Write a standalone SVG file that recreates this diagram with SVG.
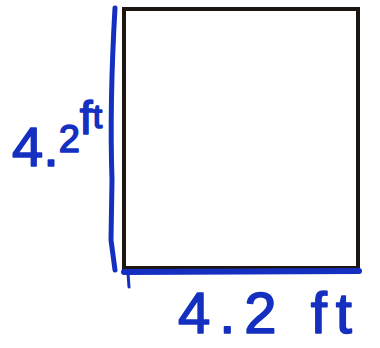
<svg xmlns="http://www.w3.org/2000/svg" width="380" height="348" viewBox="0 0 380 348">
<style>
.ink{fill:none;stroke:#1530c0;stroke-linecap:round;stroke-linejoin:round}
.lbl{font-family:"Liberation Sans","DejaVu Sans",sans-serif;fill:#1530c0;stroke:#1530c0;stroke-width:1.6;stroke-linejoin:round}
</style>
<rect width="380" height="348" fill="#ffffff"/>
<g id="square">
<rect x="124" y="9" width="234" height="259" fill="#ffffff" stroke="#1c1510" stroke-width="4"/>
</g>
<g id="dimensions">
<path class="ink" stroke-width="5" d="M115,8 C112,60 110,120 112,180 L111,240 L115,270"/>
<path class="ink" stroke-width="6" d="M124,272 L359,271"/>
<path class="ink" stroke-width="3" d="M128,273 L129,287"/>
</g>
<g id="label-left">
<text class="lbl" x="12" y="166" font-size="56">4.<tspan dy="-14" font-size="38">2</tspan><tspan dy="-18" font-size="46">f</tspan><tspan dy="-6" font-size="34">t</tspan></text>
</g>
<g id="label-bottom">
<text class="lbl" x="178" y="333" font-size="58" letter-spacing="9">4.2 ft</text>
</g>
</svg>
